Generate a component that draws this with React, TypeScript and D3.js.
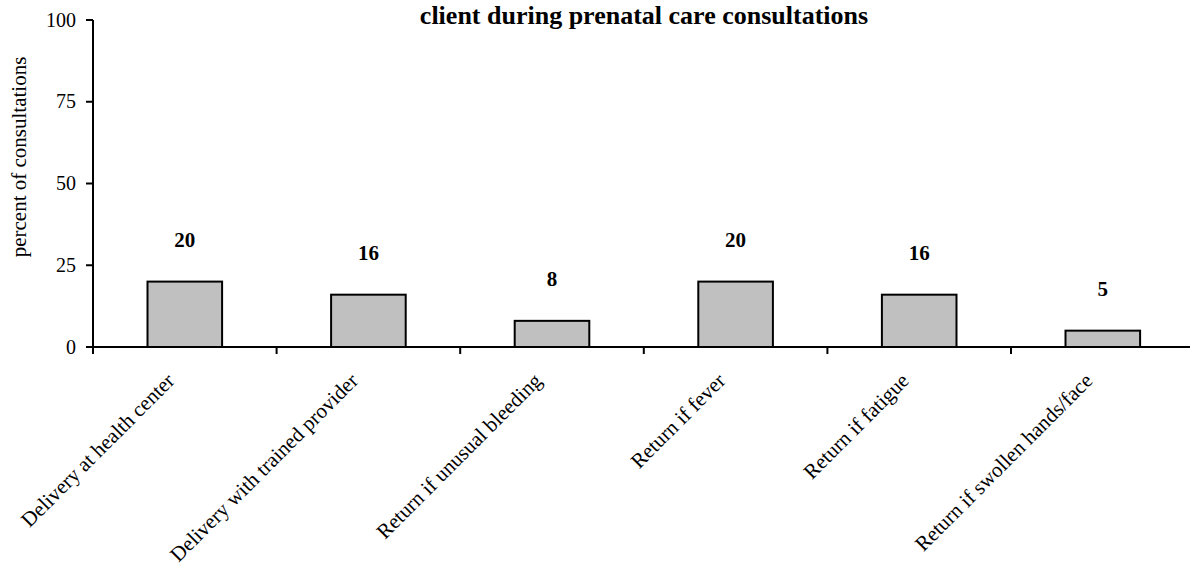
import * as d3 from "d3";
import { useEffect, useRef } from "react";

const categories = [
  "Delivery at health center",
  "Delivery with trained provider",
  "Return if unusual bleeding",
  "Return if fever",
  "Return if fatigue",
  "Return if swollen hands/face",
];
const values = [20, 16, 8, 20, 16, 5];
const yTicks = [0, 25, 50, 75, 100];

export default function App() {
  const svgRef = useRef<SVGSVGElement | null>(null);

  useEffect(() => {
    if (!svgRef.current) return;
    const svg = d3.select(svgRef.current);
    svg.selectAll("*").remove();

    const width = 1190;
    const height = 567;
    const left = 93;
    const bandW = 183.6;
    const top = 20;
    const bottom = 347;
    const font = "'Liberation Serif', 'Times New Roman', serif";

    svg.attr("width", width).attr("height", height).style("display", "block");

    const x = d3.scaleBand().domain(categories).range([left, left + bandW * 6]).padding(0);
    const y = d3.scaleLinear().domain([0, 100]).range([bottom, top]);

    const bw = 74.6;

    // title (only the visible second line)
    svg.append("text")
      .attr("x", 644)
      .attr("y", 24)
      .attr("text-anchor", "middle")
      .attr("font-family", font)
      .attr("font-weight", "bold")
      .attr("font-size", 26)
      .text("client during prenatal care consultations");

    // bars
    svg.selectAll("rect.bar")
      .data(values)
      .enter()
      .append("rect")
      .attr("class", "bar")
      .attr("x", (_d, i) => x(categories[i])! + x.bandwidth() / 2 - bw / 2)
      .attr("y", (d) => y(d))
      .attr("width", bw)
      .attr("height", (d) => y(0) - y(d))
      .attr("fill", "#c0c0c0")
      .attr("stroke", "#000")
      .attr("stroke-width", 2);

    // value labels
    svg.selectAll("text.val")
      .data(values)
      .enter()
      .append("text")
      .attr("class", "val")
      .attr("x", (_d, i) => x(categories[i])! + x.bandwidth() / 2)
      .attr("y", (d) => y(d) - 34.5)
      .attr("text-anchor", "middle")
      .attr("font-family", font)
      .attr("font-weight", "bold")
      .attr("font-size", 21)
      .text((d) => d);

    // y axis
    svg.append("line")
      .attr("x1", left).attr("x2", left)
      .attr("y1", top).attr("y2", bottom + 7)
      .attr("stroke", "#000").attr("stroke-width", 2);
    yTicks.forEach((t) => {
      svg.append("line")
        .attr("x1", left - 7).attr("x2", left)
        .attr("y1", y(t)).attr("y2", y(t))
        .attr("stroke", "#000").attr("stroke-width", 2);
      svg.append("text")
        .attr("x", 76)
        .attr("y", y(t) + 6.5)
        .attr("text-anchor", "end")
        .attr("font-family", font)
        .attr("font-size", 20)
        .text(t);
    });

    // x axis
    svg.append("line")
      .attr("x1", left - 7).attr("x2", left + bandW * 6)
      .attr("y1", bottom).attr("y2", bottom)
      .attr("stroke", "#000").attr("stroke-width", 2);
    for (let i = 1; i <= 6; i++) {
      const xi = left + bandW * i;
      svg.append("line")
        .attr("x1", xi).attr("x2", xi)
        .attr("y1", bottom).attr("y2", bottom + 7)
        .attr("stroke", "#000").attr("stroke-width", 2);
    }

    // x labels
    categories.forEach((c) => {
      const cx = x(c)! + x.bandwidth() / 2;
      svg.append("text")
        .attr("transform", `translate(${cx - 9},${bottom + 35}) rotate(-45)`)
        .attr("text-anchor", "end")
        .attr("font-family", font)
        .attr("font-size", 21)
        .text(c);
    });

    // y axis title
    svg.append("text")
      .attr("transform", `translate(26,157) rotate(-90)`)
      .attr("text-anchor", "middle")
      .attr("font-family", font)
      .attr("font-size", 21)
      .text("percent of consultations");
  }, []);

  return (
    <div style={{ position: "absolute", left: 0, top: 0 }}>
      <svg ref={svgRef}></svg>
    </div>
  );
}
